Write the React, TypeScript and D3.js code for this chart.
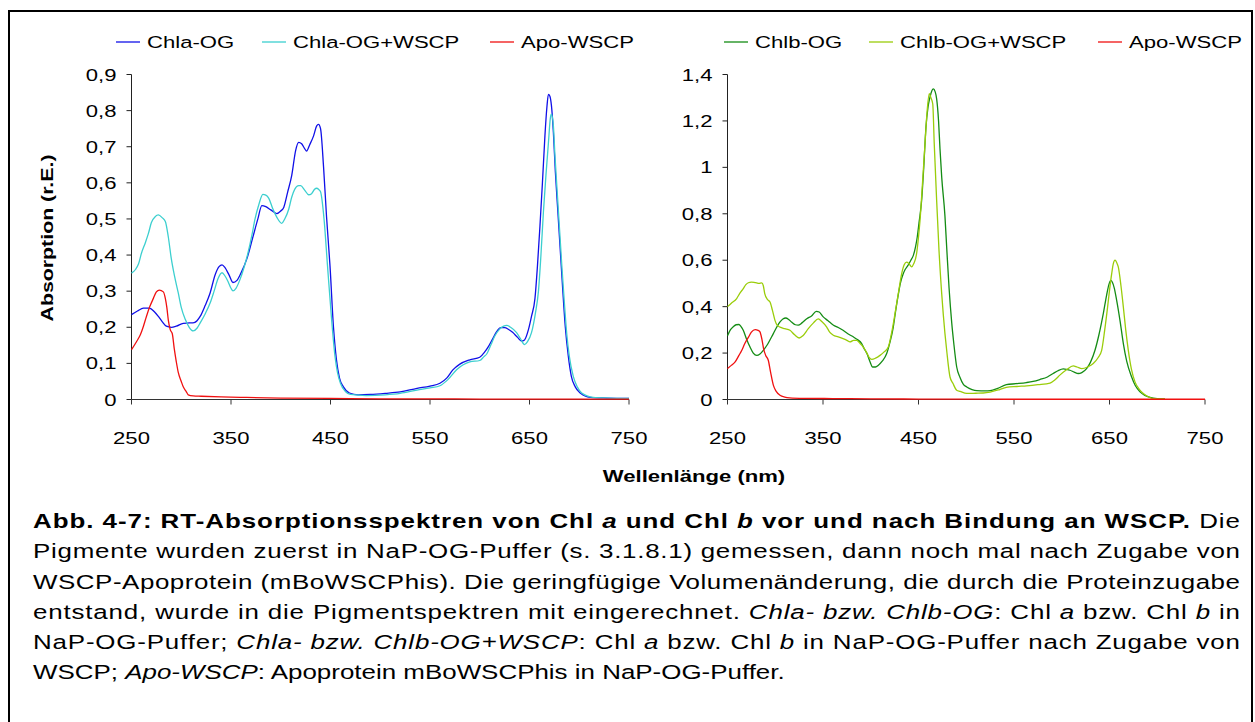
import React from 'react';
import * as d3 from 'd3';

type Pt = [number, number];

const wavelengthTicks = [250, 350, 450, 550, 650, 750];
const leftYTicks = [0, 0.1, 0.2, 0.3, 0.4, 0.5, 0.6, 0.7, 0.8, 0.9];
const rightYTicks = [0, 0.2, 0.4, 0.6, 0.8, 1.0, 1.2, 1.4];

const chlaOG: Pt[] = [
  [250, 0.235], [256, 0.245], [262, 0.253], [268, 0.253], [273, 0.243], [277, 0.23], [281, 0.215], [285, 0.203],
  [290, 0.2], [295, 0.203], [302, 0.211], [308, 0.212], [313, 0.213], [319, 0.23], [324, 0.26], [329, 0.295],
  [334, 0.345], [338, 0.368], [341, 0.373], [344, 0.365], [348, 0.345], [352, 0.324], [356, 0.33], [360, 0.35],
  [366, 0.39], [372, 0.45], [377, 0.5], [381, 0.537], [385, 0.534], [390, 0.525], [396, 0.515], [400, 0.522],
  [403, 0.532], [407, 0.575], [411, 0.62], [415, 0.69], [418, 0.712], [421, 0.708], [424, 0.695], [426, 0.688],
  [429, 0.705], [433, 0.73], [436, 0.757], [438, 0.762], [440, 0.75], [443, 0.645], [446, 0.507], [449.5, 0.37],
  [453, 0.2], [456, 0.11], [459, 0.06], [463, 0.035], [469, 0.018], [478, 0.013], [490, 0.014], [505, 0.017],
  [520, 0.021], [537, 0.031], [550, 0.037], [560, 0.045], [567, 0.06], [573, 0.082], [580, 0.098], [590, 0.11],
  [600, 0.117], [605, 0.132], [609, 0.148], [613, 0.168], [617, 0.188], [621, 0.199], [625, 0.199], [629, 0.194],
  [633, 0.186], [638, 0.172], [642, 0.162], [645, 0.165], [649, 0.194], [652, 0.23], [655.5, 0.28], [658, 0.37],
  [660.5, 0.48], [663, 0.6], [665.5, 0.73], [667.5, 0.81], [669, 0.845], [670.5, 0.84], [672, 0.815], [674, 0.74],
  [676, 0.63], [678.5, 0.52], [681, 0.41], [683.5, 0.3], [686, 0.2], [689, 0.12], [692, 0.065], [696, 0.035],
  [701, 0.018], [711, 0.006], [728, 0.004], [750, 0.003],
];

const chlaOGWSCP: Pt[] = [
  [250, 0.35], [254, 0.36], [257, 0.375], [260, 0.405], [264, 0.435], [267, 0.46], [270, 0.49], [274, 0.507],
  [277, 0.511], [281, 0.503], [284, 0.493], [287, 0.45], [290, 0.39], [293, 0.345], [297, 0.295], [300, 0.255],
  [304, 0.222], [308, 0.2], [312, 0.19], [316, 0.198], [319, 0.212], [324, 0.237], [329, 0.267], [333, 0.3],
  [337, 0.335], [341, 0.351], [344, 0.342], [347, 0.327], [350, 0.308], [352, 0.301], [355, 0.308], [359, 0.332],
  [363, 0.365], [367, 0.405], [371, 0.455], [374, 0.498], [378, 0.54], [382, 0.568], [385, 0.566], [388, 0.557],
  [392, 0.528], [396, 0.505], [401, 0.488], [404, 0.5], [408, 0.527], [411, 0.56], [414, 0.582], [418, 0.592],
  [420, 0.592], [424, 0.58], [428, 0.567], [431, 0.57], [434, 0.582], [436, 0.585], [438, 0.582], [440, 0.575],
  [443.5, 0.5], [447, 0.37], [451, 0.225], [454.5, 0.12], [457, 0.075], [460, 0.045], [465, 0.022], [470, 0.014],
  [486, 0.011], [505, 0.013], [520, 0.017], [537, 0.026], [550, 0.032], [560, 0.038], [568, 0.055], [577, 0.083],
  [590, 0.104], [600, 0.108], [604, 0.118], [607, 0.126], [611, 0.15], [615, 0.175], [620, 0.195], [624, 0.203],
  [627, 0.205], [631, 0.2], [637, 0.185], [641, 0.168], [645, 0.152], [648, 0.16], [652, 0.185], [656, 0.24],
  [659, 0.3], [661.5, 0.4], [664, 0.52], [666.5, 0.62], [669, 0.71], [671, 0.78], [672, 0.79], [674, 0.758],
  [675.5, 0.68], [677.5, 0.59], [680, 0.48], [682.5, 0.37], [685, 0.27], [687.5, 0.18], [690, 0.12], [694, 0.064],
  [698, 0.035], [702.5, 0.018], [714, 0.006], [730, 0.004], [750, 0.003],
];

const apoWSCPa: Pt[] = [
  [250, 0.138], [255, 0.16], [259, 0.18], [262, 0.203], [265, 0.23], [268.5, 0.258], [272, 0.28], [275, 0.298],
  [278, 0.303], [282, 0.298], [284, 0.28], [285.5, 0.255], [287, 0.22], [289, 0.193], [291, 0.182], [293, 0.14],
  [295, 0.105], [297, 0.075], [300, 0.05], [302, 0.035], [305, 0.022], [307, 0.013], [312, 0.01], [320, 0.009],
  [340, 0.007], [360, 0.006], [400, 0.004], [450, 0.003], [500, 0.002], [550, 0.002], [600, 0.001], [650, 0.001],
  [700, 0.001], [750, 0.001],
];

const chlbOG: Pt[] = [
  [250, 0.275], [253, 0.3], [256, 0.313], [259, 0.322], [262, 0.323], [264, 0.315], [266.5, 0.298], [270, 0.26],
  [273.6, 0.226], [277, 0.2], [280.6, 0.19], [284, 0.196], [287.5, 0.212], [292, 0.238], [298, 0.284], [302, 0.315],
  [305, 0.334], [308, 0.347], [311, 0.351], [314, 0.345], [317, 0.334], [321, 0.322], [324, 0.32], [328, 0.33],
  [333, 0.348], [338, 0.36], [343, 0.38], [346, 0.377], [350, 0.357], [355, 0.34], [361, 0.32], [366, 0.31],
  [371, 0.298], [376, 0.283], [382, 0.269], [386, 0.258], [390.5, 0.241], [393, 0.22], [396, 0.198], [399, 0.165],
  [402, 0.14], [405, 0.14], [408, 0.148], [412, 0.165], [416.7, 0.198], [420, 0.245], [423.6, 0.312], [426, 0.38],
  [429, 0.456], [431, 0.5], [434, 0.542], [436, 0.56], [439, 0.578], [442, 0.6], [444.6, 0.621], [447, 0.66],
  [448.7, 0.7], [450.5, 0.76], [453.3, 0.858], [455.5, 1.0], [457.8, 1.173], [460, 1.26], [462, 1.302], [464, 1.33],
  [465.5, 1.338], [467.5, 1.325], [469, 1.295], [471, 1.2], [472.5, 1.08], [474.3, 0.958], [477.7, 0.79],
  [479.5, 0.657], [482, 0.48], [484.8, 0.33], [487, 0.24], [490, 0.14], [493.5, 0.095], [497, 0.065],
  [500.5, 0.054], [506, 0.043], [511, 0.038], [520, 0.037], [525, 0.038], [533, 0.048], [542, 0.064], [552, 0.068],
  [563, 0.073], [570, 0.078], [577, 0.086], [585, 0.097], [591, 0.112], [596, 0.124], [601.6, 0.132], [605, 0.13],
  [608.6, 0.126], [613, 0.118], [617.3, 0.112], [621, 0.116], [626, 0.133], [630, 0.16], [634.8, 0.212],
  [639, 0.28], [643.5, 0.37], [647, 0.45], [649.5, 0.497], [651.3, 0.513], [653, 0.505], [655, 0.48],
  [657.5, 0.427], [661, 0.34], [664.5, 0.241], [668, 0.165], [673.2, 0.097], [677, 0.06], [682, 0.033],
  [687, 0.018], [692.4, 0.009], [700, 0.004], [708, 0.003],
];

const chlbOGWSCP: Pt[] = [
  [250, 0.4], [254, 0.415], [259.6, 0.435], [263, 0.458], [266.5, 0.478], [269, 0.494], [271.8, 0.503], [275, 0.506],
  [278, 0.505], [280.6, 0.502], [283, 0.5], [285.8, 0.502], [287.5, 0.49], [289, 0.456], [292, 0.43], [294.5, 0.42],
  [297, 0.385], [299.7, 0.341], [302, 0.32], [305, 0.312], [310, 0.305], [315.4, 0.298], [320, 0.28], [325, 0.265],
  [329, 0.275], [334.6, 0.305], [340, 0.33], [345, 0.347], [349, 0.335], [353.9, 0.312], [357, 0.29],
  [360.8, 0.277], [366, 0.27], [371, 0.262], [375, 0.255], [378.3, 0.248], [382, 0.255], [385.3, 0.255],
  [389, 0.24], [392.2, 0.226], [396, 0.2], [398.5, 0.18], [401, 0.173], [405, 0.178], [409.7, 0.19], [414, 0.205],
  [418.4, 0.226], [422, 0.29], [425.4, 0.37], [429, 0.46], [432.4, 0.542], [435, 0.58], [437.6, 0.592], [440, 0.585],
  [442.9, 0.571], [445, 0.585], [448, 0.628], [450, 0.7], [451.6, 0.772], [454, 0.92], [456.8, 1.101], [459, 1.24],
  [461.3, 1.317], [463, 1.3], [464.9, 1.274], [466.5, 1.1], [469, 0.858], [471.5, 0.64], [474.3, 0.456],
  [477.7, 0.284], [479.5, 0.212], [483, 0.097], [486, 0.07], [490, 0.04], [493.5, 0.035], [500.5, 0.026],
  [510, 0.027], [517.8, 0.028], [525, 0.032], [535, 0.043], [542, 0.052], [553, 0.056], [563.3, 0.059],
  [575, 0.064], [587.7, 0.071], [593, 0.085], [598, 0.105], [605, 0.128], [612, 0.145], [616, 0.14], [621, 0.133],
  [627, 0.14], [633, 0.155], [638, 0.18], [641.8, 0.212], [645, 0.3], [648, 0.398], [650, 0.47], [652.3, 0.542],
  [654, 0.585], [655.8, 0.6], [657.5, 0.59], [659.2, 0.571], [662, 0.49], [664.5, 0.398], [667, 0.3],
  [669.7, 0.212], [673, 0.13], [676.7, 0.076], [681, 0.045], [685.4, 0.026], [690, 0.013], [696, 0.004], [708, 0.003],
];

const apoWSCPb: Pt[] = [
  [250, 0.133], [254, 0.147], [258, 0.162], [262, 0.19], [265, 0.212], [268, 0.24], [272, 0.269], [275, 0.29],
  [279, 0.301], [282, 0.298], [284, 0.291], [286, 0.26], [288, 0.215], [290, 0.19], [292.7, 0.169], [295, 0.12],
  [298, 0.062], [301, 0.035], [305, 0.018], [310, 0.01], [315, 0.007], [330, 0.005], [360, 0.004], [400, 0.003],
  [450, 0.002], [500, 0.002], [550, 0.001], [600, 0.001], [650, 0.001], [700, 0.001], [750, 0.001],
];

const leftLegend = ['Chla-OG', 'Chla-OG+WSCP', 'Apo-WSCP'];
const rightLegend = ['Chlb-OG', 'Chlb-OG+WSCP', 'Apo-WSCP'];

const FONT = "'Liberation Sans', Arial, Helvetica, sans-serif";
const SX = 1.3;

function fmt(v: number): string {
  const s = d3.format('.1~f')(v);
  return s.replace('.', ',');
}

function SText(props: { x: number; y: number; anchor?: string; size: number; weight?: string; sx?: number; children: React.ReactNode }) {
  const { x, y, anchor = 'start', size, weight = 'normal', sx = SX, children } = props;
  return (
    <text transform={`translate(${x},${y}) scale(${sx},1)`} textAnchor={anchor as any} fontSize={size} fontWeight={weight} fill="#000">
      {children}
    </text>
  );
}

interface PanelProps {
  x: d3.ScaleLinear<number, number>;
  y: d3.ScaleLinear<number, number>;
  yTicks: number[];
  series: { data: Pt[]; color: string }[];
  legend: string[];
  legendX: number[];
}

function Panel({ x, y, yTicks, series, legend, legendX }: PanelProps) {
  const line = d3.line<Pt>().x((d) => x(d[0])).y((d) => y(d[1])).curve(d3.curveMonotoneX);
  const x0 = x.range()[0];
  const x1 = x.range()[1];
  const y0 = y(0);
  const yTop = y(yTicks[yTicks.length - 1]);
  return (
    <g>
      {/* axes */}
      <line x1={x0} x2={x0} y1={y0} y2={yTop} stroke="#222" strokeWidth={1} />
      <line x1={x0} x2={x1} y1={y0} y2={y0} stroke="#333" strokeWidth={1} />
      {yTicks.map((t) => (
        <g key={'y' + t}>
          <line x1={x0 - 5} x2={x0} y1={y(t)} y2={y(t)} stroke="#222" strokeWidth={1} />
          <SText x={x0 - 15} y={y(t) + 6} anchor="end" size={17}>{fmt(t)}</SText>
        </g>
      ))}
      {wavelengthTicks.map((t) => (
        <g key={'x' + t}>
          <line x1={x(t)} x2={x(t)} y1={y0} y2={y0 + 5} stroke="#333" strokeWidth={1} />
          <SText x={x(t)} y={y0 + 44} anchor="middle" size={17}>{String(t)}</SText>
        </g>
      ))}
      {series.map((s, i) => (
        <path key={i} d={line(s.data) || ''} fill="none" stroke={s.color} strokeWidth={1.3} strokeLinejoin="round" />
      ))}
      {legend.map((name, i) => (
        <g key={name + i}>
          <line x1={legendX[i]} x2={legendX[i] + 24} y1={42} y2={42} stroke={series[i].color} strokeWidth={1.3} />
          <SText x={legendX[i] + 31} y={48} size={17}>{name}</SText>
        </g>
      ))}
    </g>
  );
}

export default function App() {
  const leftX = d3.scaleLinear().domain([250, 750]).range([131.5, 629]);
  const leftY = d3.scaleLinear().domain([0, 0.9]).range([399.5, 74.5]);
  const rightX = d3.scaleLinear().domain([250, 750]).range([727.5, 1205]);
  const rightY = d3.scaleLinear().domain([0, 1.4]).range([399.5, 74.5]);

  const CS = 1.33;
  const capX = 33;
  const capW = 1207;
  const lineBase = [528, 558, 589, 619, 649, 679];
  const it = (s: string) => <tspan fontStyle="italic">{s}</tspan>;

  return (
    <svg width={1255} height={722} style={{ position: 'absolute', left: 0, top: 0, background: '#fff' }} fontFamily={FONT}>
      <rect x={0} y={0} width={1255} height={722} fill="#fff" />
      <rect x={9} y={11} width={1243} height={800} fill="none" stroke="#000" strokeWidth={2} />

      <Panel
        x={leftX}
        y={leftY}
        yTicks={leftYTicks}
        series={[
          { data: chlaOG, color: '#1010E8' },
          { data: chlaOGWSCP, color: '#3CCFCF' },
          { data: apoWSCPa, color: '#F01010' },
        ]}
        legend={leftLegend}
        legendX={[116, 262, 490]}
      />
      <Panel
        x={rightX}
        y={rightY}
        yTicks={rightYTicks}
        series={[
          { data: chlbOG, color: '#148C14' },
          { data: chlbOGWSCP, color: '#9ACD0A' },
          { data: apoWSCPb, color: '#F01010' },
        ]}
        legend={rightLegend}
        legendX={[724, 869, 1098]}
      />

      <SText x={694} y={482} anchor="middle" size={17} weight="bold">Wellenlänge (nm)</SText>
      <text transform="translate(53,238) rotate(-90)" textAnchor="middle" fontSize={17} fontWeight="bold" textLength={167} lengthAdjust="spacingAndGlyphs">
        Absorption (r.E.)
      </text>

      <g transform={`translate(${capX},0) scale(${CS},1)`} fontSize={19.5} fill="#000">
        <text x={0} y={lineBase[0]} textLength={capW / CS} lengthAdjust="spacing">
          <tspan fontWeight="bold">{'Abb. 4-7: RT-Absorptionsspektren von Chl '}</tspan>
          <tspan fontWeight="bold" fontStyle="italic">a</tspan>
          <tspan fontWeight="bold">{' und Chl '}</tspan>
          <tspan fontWeight="bold" fontStyle="italic">b</tspan>
          <tspan fontWeight="bold">{' vor und nach Bindung an WSCP.'}</tspan>
          {' Die'}
        </text>
        <text x={0} y={lineBase[1]} textLength={capW / CS} lengthAdjust="spacing">
          {'Pigmente wurden zuerst in NaP-OG-Puffer (s. 3.1.8.1) gemessen, dann noch mal nach Zugabe von'}
        </text>
        <text x={0} y={lineBase[2]} textLength={capW / CS} lengthAdjust="spacing">
          {'WSCP-Apoprotein (mBoWSCPhis). Die geringfügige Volumenänderung, die durch die Proteinzugabe'}
        </text>
        <text x={0} y={lineBase[3]} textLength={capW / CS} lengthAdjust="spacing">
          {'entstand, wurde in die Pigmentspektren mit eingerechnet. '}
          {it('Chla- bzw. Chlb-OG')}
          {': Chl '}
          {it('a')}
          {' bzw. Chl '}
          {it('b')}
          {' in'}
        </text>
        <text x={0} y={lineBase[4]} textLength={capW / CS} lengthAdjust="spacing">
          {'NaP-OG-Puffer; '}
          {it('Chla- bzw. Chlb-OG+WSCP')}
          {': Chl '}
          {it('a')}
          {' bzw. Chl '}
          {it('b')}
          {' in NaP-OG-Puffer nach Zugabe von'}
        </text>
        <text x={0} y={lineBase[5]}>
          {'WSCP; '}
          {it('Apo-WSCP')}
          {': Apoprotein mBoWSCPhis in NaP-OG-Puffer.'}
        </text>
      </g>
    </svg>
  );
}
